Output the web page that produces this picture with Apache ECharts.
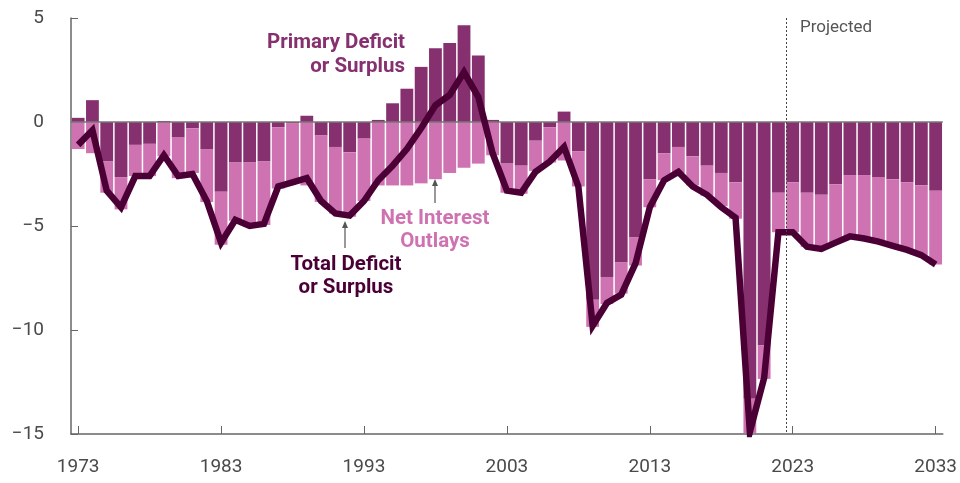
<!DOCTYPE html>
<html><head><meta charset="utf-8">
<script src="https://cdn.jsdelivr.net/npm/echarts@6/dist/echarts.min.js"></script>
<style>html,body{margin:0;padding:0;background:#fff}#c{width:960px;height:483px}</style>
</head><body><div id="c"></div>
<script>
const years = [];
for (let y = 1973; y <= 2033; y++) years.push(String(y));
const primary = [0.2,1.05,-1.9,-2.65,-1.1,-1.05,0.05,-0.75,-0.3,-1.3,
 -3.35,-1.95,-1.95,-1.9,-0.25,-0.05,0.3,-0.65,-1.2,-1.45,
 -0.8,0.1,0.9,1.6,2.65,3.55,3.8,4.65,3.2,0.1,
 -2.0,-2.1,-0.9,-0.25,0.5,-1.4,-8.55,-7.45,-6.75,-5.55,
 -2.75,-1.5,-1.2,-1.65,-2.1,-2.45,-2.9,-13.3,-10.75,-3.4,
 -2.9,-3.4,-3.5,-3.0,-2.55,-2.55,-2.65,-2.75,-2.9,-3.05,-3.3];
const interest = [-1.3,-1.5,-1.5,-1.55,-1.5,-1.55,-1.65,-1.95,-2.15,-2.55,
 -2.55,-2.8,-3.1,-3.05,-2.95,-2.9,-3.05,-3.2,-3.2,-3.1,
 -3.0,-3.05,-3.05,-3.05,-2.95,-2.75,-2.45,-2.2,-2.0,-1.6,
 -1.4,-1.35,-1.45,-1.7,-1.85,-1.7,-1.3,-1.3,-1.5,-1.35,
 -1.35,-1.3,-1.25,-1.4,-1.45,-1.6,-1.75,-1.65,-1.6,-1.9,
 -2.4,-2.6,-2.6,-2.8,-2.95,-3.05,-3.1,-3.2,-3.25,-3.35,-3.55];
const total = [-1.1,-0.4,-3.3,-4.1,-2.6,-2.6,-1.6,-2.6,-2.5,-3.8,
 -5.8,-4.7,-5.0,-4.9,-3.1,-2.9,-2.7,-3.8,-4.4,-4.5,
 -3.8,-2.8,-2.1,-1.3,-0.3,0.8,1.3,2.4,1.2,-1.5,
 -3.3,-3.4,-2.4,-1.9,-1.2,-3.1,-9.8,-8.7,-8.3,-6.8,
 -4.1,-2.8,-2.4,-3.1,-3.5,-4.1,-4.6,-14.9,-12.3,-5.3,
 -5.3,-6.0,-6.1,-5.8,-5.5,-5.6,-5.75,-5.95,-6.15,-6.4,-6.85];
const yTicks = [5,0,-5,-10,-15];
const projectedStart = '2023';

const FONT = '"Roboto","Noto Sans",sans-serif';
const DARK = '#86306F', PINK = '#CF72B1', LINE = '#4B0035', GRAY = '#666';

const chart = echarts.init(document.getElementById('c'));
chart.setOption({
  animation: false,
  grid: {left: 71, right: 17, top: 18, bottom: 49},
  xAxis: {
    type: 'category', data: years, boundaryGap: true,
    axisLine: {show: true, onZero: false, lineStyle: {color: GRAY, width: 1.5}},
    axisTick: {show: true, inside: true, alignWithLabel: true, length: 8,
      interval: (i) => i % 10 === 0, lineStyle: {color: GRAY, width: 1}},
    axisLabel: {interval: (i) => i % 10 === 0, margin: 24, color: '#4a4a4a',
      fontFamily: FONT, fontSize: 19}
  },
  yAxis: {
    type: 'value', min: -15, max: 5, interval: 5,
    axisLine: {show: true, lineStyle: {color: GRAY, width: 1.5}},
    axisTick: {show: true, inside: true, length: 7, lineStyle: {color: GRAY}},
    splitLine: {show: false},
    axisLabel: {margin: 27, color: '#4a4a4a', fontFamily: FONT, fontSize: 19,
      formatter: (v) => yTicks.includes(v) ? String(v).replace('-', '\u2212') : ''}
  },
  series: [
    {type: 'bar', name: 'Primary', stack: 's', data: primary, barWidth: 12.8,
      itemStyle: {color: DARK}},
    {type: 'bar', name: 'Interest', stack: 's', data: interest, barWidth: 12.8,
      itemStyle: {color: PINK},
      markLine: {silent: true, symbol: 'none', label: {show: false},
        data: [{yAxis: 0, lineStyle: {color: '#777', type: 'solid', width: 1.5}}]}},
    {type: 'line', name: 'Total', data: total, symbol: 'none',
      lineStyle: {color: LINE, width: 6.5, join: 'miter'}, z: 5}
  ]
});

// dashed divider between last actual and first projected year
const pxStart = chart.convertToPixel({xAxisIndex: 0}, projectedStart);
const bandHalf = (chart.convertToPixel({xAxisIndex: 0}, '2024') - pxStart) / 2;
const yTopPx = chart.convertToPixel({yAxisIndex: 0}, 5);
const yBotPx = chart.convertToPixel({yAxisIndex: 0}, -15);
const divX = Math.round(pxStart - bandHalf) + 0.5;

chart.setOption({
  graphic: [
    {type: 'line', shape: {x1: divX, y1: yTopPx, x2: divX, y2: yBotPx},
      style: {stroke: '#444', lineWidth: 1, lineDash: [2, 2]}, z: 10},
    {type: 'text', style: {x: 405, y: 31, text: 'Primary Deficit\nor Surplus',
      fill: DARK, font: 'bold 20.5px ' + FONT, textAlign: 'right', textVerticalAlign: 'top', lineHeight: 24}},
    {type: 'text', style: {x: 435, y: 207, text: 'Net Interest\nOutlays',
      fill: PINK, font: 'bold 20.5px ' + FONT, textAlign: 'center', textVerticalAlign: 'top', lineHeight: 23}},
    {type: 'text', style: {x: 346, y: 253, text: 'Total Deficit\nor Surplus',
      fill: LINE, font: 'bold 20.5px ' + FONT, textAlign: 'center', textVerticalAlign: 'top', lineHeight: 23}},
    {type: 'text', style: {x: 800, y: 19, text: 'Projected', fill: '#555',
      font: '17px ' + FONT}},
    {type: 'line', shape: {x1: 345, y1: 248, x2: 345, y2: 226}, style: {stroke: '#555', lineWidth: 1.2}},
    {type: 'polygon', shape: {points: [[345, 221], [342, 228], [348, 228]]}, style: {fill: '#555'}},
    {type: 'line', shape: {x1: 435, y1: 203, x2: 435, y2: 184}, style: {stroke: '#555', lineWidth: 1.2}},
    {type: 'polygon', shape: {points: [[435, 179], [432, 186], [438, 186]]}, style: {fill: '#555'}}
  ]
});
</script></body></html>
